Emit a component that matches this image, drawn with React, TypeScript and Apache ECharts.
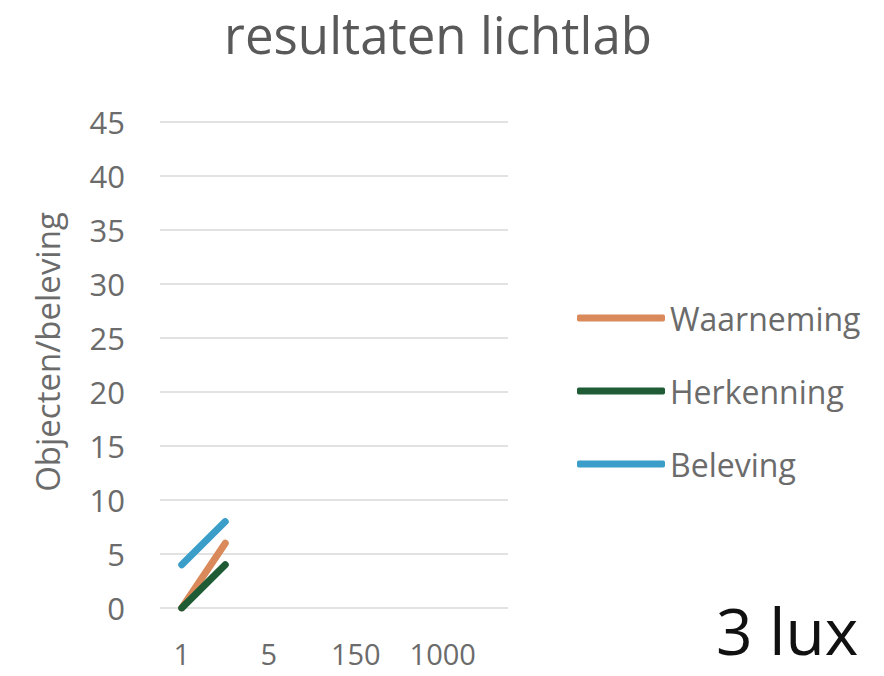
import React, { useEffect, useRef } from "react";
import * as echarts from "echarts";

const categories = ["1", "3", "5", "50", "150", "500", "1000", "1500"];
const waarneming = [0, 6];
const herkenning = [0, 4];
const beleving = [4, 8];
const yTicks = { min: 0, max: 45, interval: 5 };

export default function App() {
  const ref = useRef<HTMLDivElement>(null);
  useEffect(() => {
    const chart = echarts.init(ref.current!, null, { renderer: "svg" });
    const gray = "#6b6b6b";
    const font = "Open Sans";
    const mk = (name: string, data: number[], color: string) => ({
      name,
      type: "line",
      data,
      symbol: "none",
      lineStyle: { width: 7, color, cap: "round" },
      itemStyle: { color },
    });
    chart.setOption({
      animation: false,
      backgroundColor: "#ffffff",
      title: {
        text: "resultaten lichtlab",
        left: 433,
        textAlign: "center",
        top: 1,
        textStyle: { fontFamily: font, fontSize: 51, lineHeight: 56, fontWeight: "normal", color: "#595959" },
      },
      grid: { left: 160, right: 376, top: 122, bottom: 68 },
      xAxis: {
        type: "category",
        data: categories,
        boundaryGap: true,
        axisLine: { show: false },
        axisTick: { show: false },
        axisLabel: { interval: 1, margin: 33, fontSize: 29, lineHeight: 24, color: gray, fontFamily: font },
      },
      yAxis: {
        type: "value",
        min: yTicks.min,
        max: yTicks.max,
        interval: yTicks.interval,
        name: "Objecten/beleving",
        nameLocation: "middle",
        nameGap: 96,
        nameTextStyle: { fontSize: 33, color: gray, fontFamily: font, padding: [0, 0, 0, 26] },
        axisLabel: { margin: 35, fontSize: 31, color: gray, fontFamily: font },
        splitLine: { lineStyle: { color: "#d9d9d9", width: 1.5 } },
      },
      legend: {
        orient: "vertical",
        left: 572,
        top: 297,
        icon: "roundRect",
        itemWidth: 88,
        itemHeight: 7,
        itemGap: 41,
        textStyle: { fontSize: 32, lineHeight: 32, color: gray, fontFamily: font },
        data: ["Waarneming", "Herkenning", "Beleving"],
      },
      graphic: [
        {
          type: "text",
          left: 716,
          top: 598,
          style: { text: "3 lux", fontSize: 64, lineHeight: 64, fill: "#111", fontFamily: font },
        },
      ],
      series: [
        mk("Waarneming", waarneming, "#d9895a"),
        mk("Herkenning", herkenning, "#1f5c36"),
        mk("Beleving", beleving, "#3a9ec8"),
      ],
    });
    return () => chart.dispose();
  }, []);
  return <div ref={ref} style={{ position: "absolute", left: 0, top: 0, width: 884, height: 676 }} />;
}
